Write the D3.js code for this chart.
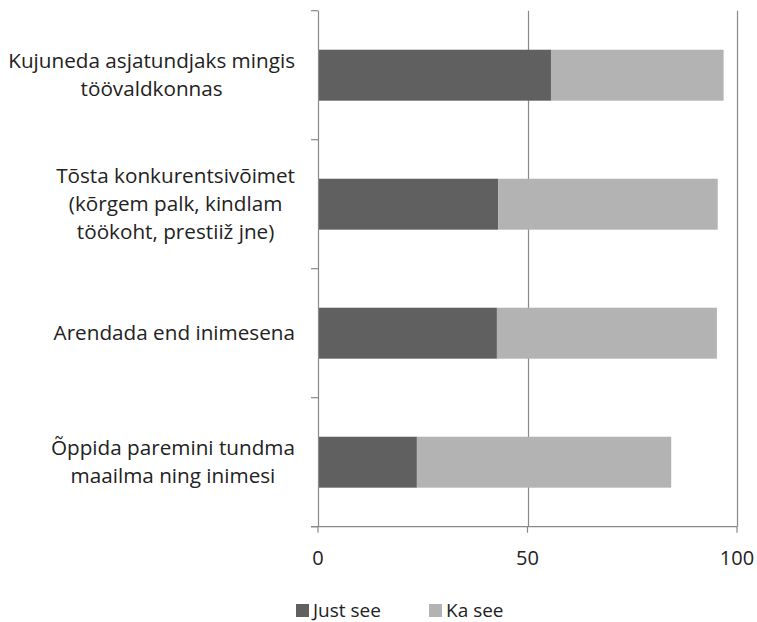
<!DOCTYPE html>
<html><head><meta charset="utf-8">
<script src="https://cdn.jsdelivr.net/npm/d3@7"></script>
<style>body{margin:0;background:#fff;}svg{display:block;}</style>
</head><body>
<svg id="c" width="757" height="622"></svg>
<script>
const categories = ["Kujuneda asjatundjaks mingis\ntöövaldkonnas",
  "Tõsta konkurentsivõimet\n(kõrgem palk, kindlam\ntöökoht, prestiiž jne)",
  "Arendada end inimesena",
  "Õppida paremini tundma\nmaailma ning inimesi"];
const justSee = [55.6, 43.0, 42.7, 23.6];
const kaSee = [41.2, 52.4, 52.5, 60.7];
const seriesNames = ["Just see", "Ka see"];
const xTicks = [0, 50, 100];

(function () {
const colors = ["#606060", "#b3b3b3"];
const font = "'Open Sans', sans-serif";
const textColor = "#222";
const svg = d3.select("#c");
const pTop = 10.7, pBottom = 526.7, pLeft = 318, pRight = 737;
const x = d3.scaleLinear().domain([0, 100]).range([pLeft, pRight]);
const y = d3.scaleBand().domain(categories).range([pTop, pBottom]).paddingInner(0.605).paddingOuter(0.3025);
const gridColor = "#898989";

// gridlines
svg.append("g").selectAll("line").data(xTicks.filter(t => t > 0)).join("line")
  .attr("x1", d => Math.round(x(d)) + 0.5).attr("x2", d => Math.round(x(d)) + 0.5)
  .attr("y1", pTop).attr("y2", pBottom)
  .attr("stroke", gridColor).attr("stroke-width", 1.2);

// bars
const table = categories.map((c, i) => ({cat: c, v: [justSee[i], kaSee[i]]}));
const stackData = table.map(d => {
  let s = 0;
  return d.v.map((v, k) => { const r = {cat: d.cat, x0: s, x1: s + v, k}; s += v; return r; });
}).flat();
svg.append("g").selectAll("rect").data(stackData).join("rect")
  .attr("x", d => x(d.x0)).attr("width", d => x(d.x1) - x(d.x0))
  .attr("y", d => y(d.cat)).attr("height", y.bandwidth())
  .attr("fill", d => colors[d.k]);

// left axis
const yl = svg.append("g");
yl.append("line").attr("x1", pLeft + 0.5).attr("x2", pLeft + 0.5).attr("y1", pTop).attr("y2", pBottom)
  .attr("stroke", gridColor).attr("stroke-width", 1.2);
const bounds = d3.range(categories.length + 1).map(i => pTop + i * (pBottom - pTop) / categories.length);
yl.selectAll("line.t").data(bounds).join("line").attr("class", "t")
  .attr("x1", pLeft - 7).attr("x2", pLeft).attr("y1", d => d).attr("y2", d => d)
  .attr("stroke", gridColor).attr("stroke-width", 1.2);

// bottom axis
const xa = svg.append("g");
xa.append("line").attr("x1", pLeft - 7).attr("x2", pRight).attr("y1", pBottom).attr("y2", pBottom)
  .attr("stroke", gridColor).attr("stroke-width", 1.2);
xa.selectAll("line.t").data(xTicks).join("line").attr("class", "t")
  .attr("x1", d => x(d)).attr("x2", d => x(d)).attr("y1", pBottom).attr("y2", pBottom + 6)
  .attr("stroke", gridColor).attr("stroke-width", 1.2);
xa.selectAll("text").data(xTicks).join("text")
  .attr("x", d => x(d)).attr("y", 565)
  .attr("text-anchor", "middle").attr("font-family", font).attr("font-size", 20).attr("fill", textColor)
  .text(d => d);

// category labels
const labelRight = 295;
categories.forEach(c => {
  const lines = c.split("\n");
  const g = svg.append("g");
  const cy = y(c) + y.bandwidth() / 2;
  const texts = lines.map((l, i) => g.append("text")
    .attr("y", cy + (i - (lines.length - 1) / 2) * 28 + 7)
    .attr("text-anchor", "middle").attr("font-family", font).attr("font-size", 20.7).attr("fill", textColor)
    .text(l));
  const maxW = d3.max(texts, t => t.node().getComputedTextLength());
  texts.forEach(t => t.attr("x", labelRight - maxW / 2));
});

// legend
const legX = [296, 429];
const lg = svg.append("g");
seriesNames.forEach((n, i) => {
  lg.append("rect").attr("x", legX[i]).attr("y", 604).attr("width", 13).attr("height", 13).attr("fill", colors[i]);
  lg.append("text").attr("x", legX[i] + 17).attr("y", 616.5)
    .attr("font-family", font).attr("font-size", 19).attr("fill", textColor).text(n);
});
})();
</script>
</body></html>
